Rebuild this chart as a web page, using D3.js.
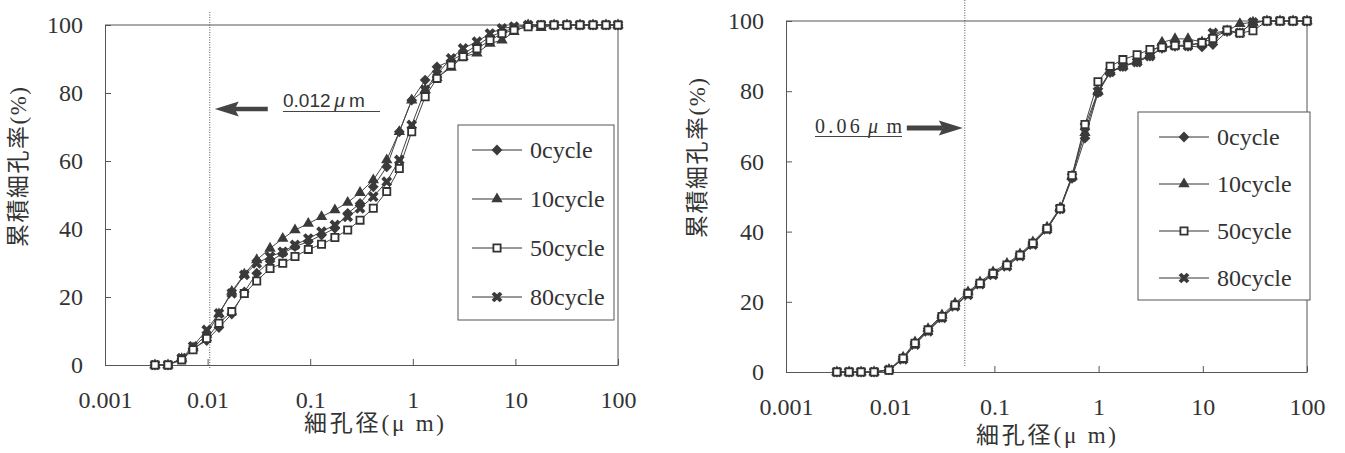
<!DOCTYPE html>
<html><head><meta charset="utf-8">
<script src="https://cdn.jsdelivr.net/npm/d3@7"></script>
<style>
body{margin:0;background:#fff} svg{display:block}
.serif{font-family:"Liberation Serif","Noto Sans CJK JP",serif}
.sans{font-family:"Liberation Sans",Arial,"DejaVu Sans",sans-serif}
</style>
</head><body>
<svg id="c" width="1345" height="453"></svg>
<script>
// ---------- data ----------
const seriesNames = ["0cycle", "10cycle", "50cycle", "80cycle"];
const yTickValues = [0, 20, 40, 60, 80, 100];
const xTickValues = [0.001, 0.01, 0.1, 1, 10, 100];
const xTickLabels = ["0.001", "0.01", "0.1", "1", "10", "100"];
const xTitle = "細孔径(μ m)";
const yTitle = "累積細孔率(%)";

// left chart: pore diameter (µm) and cumulative porosity (%)
const poreL = [0.00307, 0.00411, 0.00559, 0.00721, 0.0098, 0.0129, 0.0172, 0.0228, 0.0301, 0.0406,
  0.054, 0.0711, 0.0958, 0.129, 0.174, 0.232, 0.306, 0.412, 0.557, 0.739,
  0.976, 1.32, 1.72, 2.36, 3.09, 4.22, 5.65, 7.4, 9.69, 13.3,
  17.8, 23.8, 31.8, 42.6, 57.1, 76.4, 100];
const left0cycle = [0, 0, 1.8, 4.8, 7.2, 11, 15, 21.5, 27, 30.5,
  32.8, 34.8, 36.3, 38.2, 40.2, 44.6, 47.5, 52.4, 58.3, 68.6,
  77.9, 83.8, 87.7, 89.5, 91.5, 94, 96.5, 98, 99, 100,
  100, 100, 100, 100, 100, 100, 100];
const left10cycle = [0, 0, 1.8, 5, 9, 15, 21.6, 26.7, 30.9, 34.3,
  37.2, 39.7, 41.6, 43.6, 45.6, 47.8, 50.7, 54.4, 60.3, 68.6,
  77.9, 80.9, 84.5, 87.5, 90.7, 91.7, 94.6, 95.5, 98, 100,
  99.2, 100, 100, 100, 100, 100, 100];
const left50cycle = [0, 0, 1.5, 4.5, 7.8, 12.3, 15.7, 21, 24.7, 28.4,
  29.9, 31.9, 34, 35.5, 37.5, 39.7, 42.6, 46.1, 51, 57.8,
  68.6, 78.9, 84.3, 88.2, 90.7, 93, 95.5, 97.5, 98.5, 99.5,
  100, 100, 100, 100, 100, 100, 100];
const left80cycle = [0, 0, 2, 5.5, 10.3, 15.2, 21.1, 26.5, 29.9, 31.9,
  33.3, 35.3, 37.2, 39.2, 41.2, 43.6, 46.1, 49.5, 53.9, 60.3,
  70.6, 80.9, 85.5, 90.2, 93.1, 95.1, 97.5, 99, 99.5, 100,
  100, 100, 100, 100, 100, 100, 100];

// right chart
const poreR = [0.00308, 0.00403, 0.00525, 0.007, 0.00973, 0.0133, 0.0173, 0.0231, 0.0314, 0.0419,
  0.0558, 0.0728, 0.0971, 0.132, 0.176, 0.234, 0.32, 0.427, 0.556, 0.74,
  0.986, 1.29, 1.71, 2.34, 3.11, 4.06, 5.41, 7.21, 9.82, 12.5,
  17.1, 22.7, 30.3, 41.3, 55.1, 73.4, 100];
const right0cycle = [0, 0, 0, 0, 0.6, 3.8, 8.0, 11.8, 15.6, 19.0,
  22.3, 25.2, 28.0, 30.4, 33.2, 36.6, 40.8, 46.4, 55.2, 66.6,
  79.5, 85.3, 87.0, 88.3, 90.0, 92.2, 92.8, 92.8, 92.6, 93.3,
  97.0, 96.6, 99.6, 100, 100, 100, 100];
const right10cycle = [0, 0, 0, 0, 0.7, 4.2, 8.5, 12.3, 16.2, 19.6,
  22.8, 25.6, 28.5, 30.9, 33.6, 37.0, 41.2, 46.8, 55.8, 68.2,
  79.9, 85.6, 87.2, 88.5, 90.4, 93.9, 94.9, 94.9, 94.0, 96.0,
  97.2, 99.2, 99.6, 100, 100, 100, 100];
const right50cycle = [0, 0, 0, 0, 0.5, 3.9, 8.2, 12.0, 15.8, 19.1,
  22.4, 25.3, 28.1, 30.5, 33.3, 36.7, 40.9, 46.6, 56.0, 70.5,
  82.7, 87.1, 89.0, 90.4, 91.9, 92.5, 93.0, 93.2, 93.8, 95.0,
  97.4, 96.6, 97.2, 100, 100, 100, 100];
const right80cycle = [0, 0, 0, 0, 0.6, 3.6, 7.8, 11.6, 15.4, 18.7,
  22.0, 25.0, 27.7, 30.1, 33.0, 36.3, 40.6, 46.5, 55.6, 69.9,
  79.9, 85.5, 87.1, 88.3, 90.0, 92.5, 93.0, 92.9, 93.8, 96.6,
  97.2, 96.6, 99.6, 100, 100, 100, 100];

const leftLineValue = 0.0105;   // dotted line (labelled 0.012 µm)
const rightLineValue = 0.052;   // dotted line (labelled 0.06 µm)

// ---------- drawing ----------
const svg = d3.select("#c");
const INK = "#3a3a3a";

const symbols = {
  "0cycle":  {type: d3.symbolSquare,   size: 58, rot: 45, fill: INK, stroke: "none"},
  "10cycle": {type: d3.symbolTriangle, size: 56, rot: 0,  fill: INK, stroke: "none"},
  "50cycle": {type: d3.symbolSquare,   size: 52, rot: 0,  fill: "#fff", stroke: "#333"},
  "80cycle": {type: d3.symbolCross,    size: 72, rot: 45, fill: INK, stroke: "none"}
};
const drawOrder = ["0cycle", "10cycle", "80cycle", "50cycle"];

function marker(g, name, cx, cy) {
  const s = symbols[name];
  g.append("path")
    .attr("d", d3.symbol().type(s.type).size(s.size)())
    .attr("transform", `translate(${cx},${cy}) rotate(${s.rot})`)
    .attr("fill", s.fill).attr("stroke", s.stroke).attr("stroke-width", 1.8);
}

function drawChart(cfg) {
  const g = svg.append("g");
  const x = d3.scaleLog().domain([0.001, 100]).range([cfg.x0, cfg.x1]);
  const y = d3.scaleLinear().domain([0, 100]).range([cfg.y1, cfg.y0]);

  g.append("path").attr("d", `M${cfg.x0},${cfg.y0}H${cfg.x1}V${cfg.y1}`)
    .attr("fill", "none").attr("stroke", "#555").attr("stroke-width", 1);

  const ya = g.append("g").attr("transform", `translate(${cfg.x0},0)`)
    .call(d3.axisLeft(y).tickValues(yTickValues).tickSizeInner(-6).tickSizeOuter(0).tickPadding(22));
  const xa = g.append("g").attr("transform", `translate(0,${cfg.y1})`)
    .call(d3.axisBottom(x).tickValues(xTickValues).tickFormat((d, i) => xTickLabels[i])
      .tickSizeInner(-6).tickSizeOuter(0).tickPadding(26));
  [ya, xa].forEach(a => {
    a.attr("font-family", null).attr("font-size", null);
    a.selectAll("path,line").attr("stroke", "#555");
    a.selectAll("text").attr("class", "serif").style("font-size", "24px").attr("fill", "#333");
  });

  g.append("line").attr("x1", x(cfg.lineValue)).attr("x2", x(cfg.lineValue))
    .attr("y1", cfg.lineTop).attr("y2", cfg.lineBottom)
    .attr("stroke", "#555").attr("stroke-width", 1).attr("stroke-dasharray", "1,1.5");

  const line = d3.line().x(d => x(d.d)).y(d => y(d.v));
  cfg.series.forEach(s => {
    const pts = cfg.pore.map((d, i) => ({d, v: s.values[i]}));
    g.append("path").attr("d", line(pts)).attr("fill", "none").attr("stroke", "#444").attr("stroke-width", 1);
  });
  drawOrder.forEach(name => {
    const s = cfg.series.find(t => t.name === name);
    const mg = g.append("g");
    cfg.pore.forEach((d, i) => marker(mg, name, x(d), y(s.values[i])));
  });

  g.append("text").attr("class", "serif").attr("x", cfg.xTitleX).attr("y", cfg.xTitleY)
    .attr("text-anchor", "middle").style("font-size", "23px")
    .attr("fill", "#333").attr("textLength", 140).attr("lengthAdjust", "spacing").text(xTitle);
  g.append("text").attr("class", "serif").attr("transform", `translate(${cfg.yTitleX},${cfg.yTitleY}) rotate(-90)`)
    .attr("text-anchor", "middle").style("font-size", "23px")
    .attr("fill", "#333").attr("textLength", 160).attr("lengthAdjust", "spacing").text(yTitle);

  const L = cfg.legend;
  g.append("rect").attr("x", L.x).attr("y", L.y).attr("width", L.w).attr("height", L.h)
    .attr("fill", "#fff").attr("stroke", "#555").attr("stroke-width", 1);
  seriesNames.forEach((name, i) => {
    const cy = L.firstY + i * L.step;
    g.append("line").attr("x1", L.lx1).attr("x2", L.lx2).attr("y1", cy).attr("y2", cy)
      .attr("stroke", "#333").attr("stroke-width", 1);
    marker(g, name, (L.lx1 + L.lx2) / 2, cy);
    g.append("text").attr("class", "serif").attr("x", L.tx).attr("y", cy).attr("dy", "0.35em")
      .style("font-size", "24px").attr("fill", "#333").text(name);
  });
  return {g, x, y};
}

function arrow(g, tipX, tailX, cy, shaft, headLen, headHalf) {
  const dir = Math.sign(tailX - tipX);
  const baseX = tipX + dir * headLen;
  g.append("rect").attr("x", Math.min(baseX, tailX)).attr("y", cy - shaft / 2)
    .attr("width", Math.abs(tailX - baseX)).attr("height", shaft).attr("fill", "#444");
  g.append("path")
    .attr("d", `M${tipX},${cy}L${baseX + dir * 4},${cy - headHalf}L${baseX},${cy}L${baseX + dir * 4},${cy + headHalf}Z`)
    .attr("fill", "#444");
}

const left = drawChart({
  x0: 105, x1: 618, y0: 25, y1: 365, pore: poreL,
  series: [
    {name: "0cycle", values: left0cycle}, {name: "10cycle", values: left10cycle},
    {name: "50cycle", values: left50cycle}, {name: "80cycle", values: left80cycle}
  ],
  lineValue: leftLineValue, lineTop: 12, lineBottom: 368,
  xTitleX: 374, xTitleY: 431, yTitleX: 26, yTitleY: 167,
  legend: {x: 458, y: 125, w: 156, h: 195, firstY: 150, step: 49, lx1: 472, lx2: 522, tx: 530}
});
{
  const g = left.g, lx = left.x(leftLineValue);
  arrow(g, lx + 5, lx + 58, 109, 4.5, 20, 7.5);
  const t = g.append("text").attr("class", "sans").attr("x", 283).attr("y", 107)
    .style("font-size", "19px").attr("fill", "#333");
  t.append("tspan").text("0.012");
  t.append("tspan").attr("font-style", "italic").attr("dx", 4).text("μ");
  t.append("tspan").attr("dx", 4).text("m");
  g.append("line").attr("x1", 283).attr("x2", 380).attr("y1", 111.5).attr("y2", 111.5)
    .attr("stroke", "#444").attr("stroke-width", 1.2);
}

const right = drawChart({
  x0: 786, x1: 1307, y0: 21, y1: 372, pore: poreR,
  series: [
    {name: "0cycle", values: right0cycle}, {name: "10cycle", values: right10cycle},
    {name: "50cycle", values: right50cycle}, {name: "80cycle", values: right80cycle}
  ],
  lineValue: rightLineValue, lineTop: 0, lineBottom: 366,
  xTitleX: 1046, xTitleY: 443, yTitleX: 705, yTitleY: 158,
  legend: {x: 1138, y: 112, w: 172, h: 188, firstY: 137, step: 47, lx1: 1159, lx2: 1209, tx: 1217}
});
{
  const g = right.g, rx = right.x(rightLineValue);
  arrow(g, rx - 2, rx - 58, 128, 5, 20, 7.5);
  const t = g.append("text").attr("class", "serif").attr("x", 815).attr("y", 133)
    .style("font-size", "20px").attr("fill", "#333").attr("textLength", 87).attr("lengthAdjust", "spacing");
  t.append("tspan").text("0.06");
  t.append("tspan").attr("font-style", "italic").attr("dx", 5).text("μ");
  t.append("tspan").attr("dx", 5).text("m");
  g.append("line").attr("x1", 815).attr("x2", 902).attr("y1", 136.5).attr("y2", 136.5)
    .attr("stroke", "#444").attr("stroke-width", 1.2);
}
</script>
</body></html>
